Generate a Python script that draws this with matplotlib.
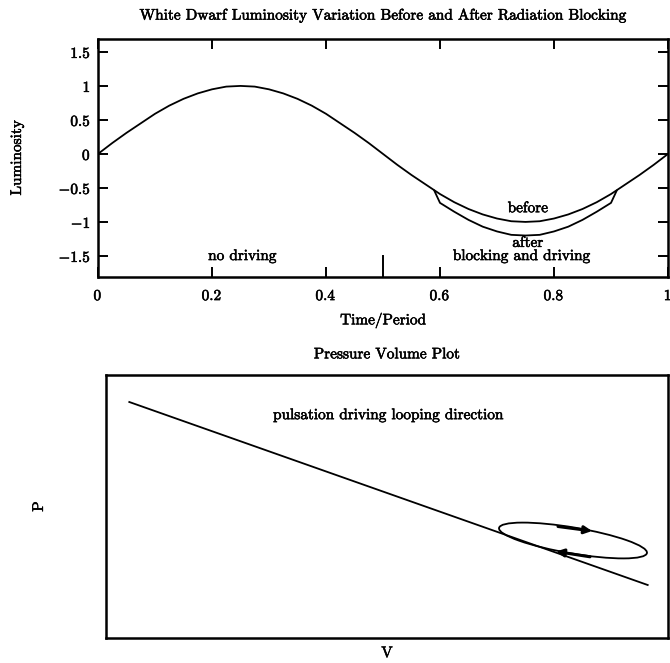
import numpy as np
import matplotlib
matplotlib.use('Agg')
import matplotlib.pyplot as plt
import matplotlib.patheffects as pe
from matplotlib.patches import Ellipse

plt.rcParams['font.family'] = 'serif'
plt.rcParams['font.serif'] = ['cmr10', 'DejaVu Serif']
plt.rcParams['mathtext.fontset'] = 'cm'
plt.rcParams['axes.unicode_minus'] = False

# luminosity
t_before = [0, 0.025, 0.05, 0.075, 0.1, 0.125, 0.15, 0.175, 0.2, 0.225, 0.25,
            0.275, 0.3, 0.325, 0.35, 0.375, 0.4, 0.425, 0.45, 0.475, 0.5,
            0.525, 0.55, 0.575, 0.6, 0.625, 0.65, 0.675, 0.7, 0.725, 0.75,
            0.775, 0.8, 0.825, 0.85, 0.875, 0.9, 0.925, 0.95, 0.975, 1.0]
lum_before = [0, 0.16, 0.31, 0.45, 0.59, 0.71, 0.81, 0.89, 0.95, 0.99, 1.00,
              0.99, 0.95, 0.89, 0.81, 0.71, 0.59, 0.45, 0.31, 0.16, 0,
              -0.16, -0.31, -0.45, -0.59, -0.71, -0.81, -0.89, -0.95, -0.99, -1.00,
              -0.99, -0.95, -0.89, -0.81, -0.71, -0.59, -0.45, -0.31, -0.16, 0]
t_after = [0.59, 0.6, 0.625, 0.65, 0.675, 0.7, 0.725, 0.75,
           0.775, 0.8, 0.825, 0.85, 0.875, 0.9, 0.91]
lum_after = [-0.54, -0.72, -0.85, -0.97, -1.07, -1.14, -1.19, -1.20,
             -1.19, -1.14, -1.07, -0.97, -0.85, -0.72, -0.54]

x_ticks = [0, 0.2, 0.4, 0.6, 0.8, 1]
x_labels = ['$0$', '$0.2$', '$0.4$', '$0.6$', '$0.8$', '$1$']
y_ticks = [-1.5, -1, -0.5, 0, 0.5, 1, 1.5]
y_labels = ['$-1.5$', '$-1$', '$-0.5$', '$0$', '$0.5$', '$1$', '$1.5$']

# pressure-volume plot (arbitrary units)
pv_line_v = [0.233, 5.417]
pv_line_p = [2.36, 0.53]
loop_center = (4.67, 0.975)
loop_width = 1.50
loop_height = 0.26
loop_angle = -9.6
arrow_top = [(4.52, 1.115), (4.86, 1.07)]
arrow_bottom = [(4.84, 0.812), (4.50, 0.865)]

FS = 11
thick = [pe.withStroke(linewidth=0.4, foreground='black')]

fig = plt.figure(figsize=(6.7, 6.63), dpi=100)

# top panel
ax1 = fig.add_axes([98 / 670, 1 - 277 / 663, 570 / 670, 238 / 663])
ax1.plot(t_before, lum_before, color='black', lw=1.3)
ax1.plot(t_after, lum_after, color='black', lw=1.3)
ax1.plot([0.5, 0.5], [-1.81, -1.5], color='black', lw=1.4)
ax1.set_xlim(0, 1)
ax1.set_ylim(-1.81, 1.69)
ax1.set_xticks(x_ticks)
ax1.set_xticklabels(x_labels)
ax1.set_yticks(y_ticks)
ax1.set_yticklabels(y_labels)
ax1.tick_params(direction='in', length=7, width=1.4, top=True, right=True,
                labelsize=FS)
ax1.tick_params(axis='x', pad=8)
ax1.tick_params(axis='y', pad=5)
for s in ax1.spines.values():
    s.set_linewidth(1.8)
ax1.set_title('White Dwarf Luminosity Variation Before and After Radiation Blocking',
              fontsize=FS, pad=14)
ax1.set_xlabel('Time/Period', fontsize=FS, labelpad=7)
ax1.set_ylabel('Luminosity', fontsize=FS)
ax1.yaxis.set_label_coords(-0.13, 0.5)
ax1.text(0.253, -1.5, 'no driving', ha='center', va='center', fontsize=FS)
ax1.text(0.743, -1.5, 'blocking and driving', ha='center', va='center', fontsize=FS)
ax1.text(0.754, -1.31, 'after', ha='center', va='center', fontsize=FS)
ax1.text(0.754, -0.8, 'before', ha='center', va='center', fontsize=FS)

# bottom panel
ax2 = fig.add_axes([106 / 670, 1 - 638 / 663, 562 / 670, 263 / 663])
ax2.plot(pv_line_v, pv_line_p, color='black', lw=1.3)
ax2.add_patch(Ellipse(loop_center, loop_width, loop_height, angle=loop_angle,
                      fill=False, edgecolor='black', lw=1.3))
for a, b in [arrow_top, arrow_bottom]:
    ax2.annotate('', xy=b, xytext=a,
                 arrowprops=dict(arrowstyle='-|>', color='black', lw=2.2,
                                 mutation_scale=11, shrinkA=0, shrinkB=0))
ax2.set_xlim(0, 5.62)
ax2.set_ylim(0, 2.63)
ax2.set_xticks([])
ax2.set_yticks([])
for s in ax2.spines.values():
    s.set_linewidth(1.8)
ax2.set_title('Pressure Volume Plot', fontsize=FS, pad=12)
ax2.set_xlabel('V', fontsize=FS, labelpad=6)
ax2.set_ylabel('P', fontsize=FS)
ax2.yaxis.set_label_coords(-0.107, 0.5)
ax2.text(2.82, 2.23, 'pulsation driving looping direction', ha='center',
         va='center', fontsize=FS)

for t in fig.findobj(matplotlib.text.Text):
    t.set_path_effects(thick)

fig.savefig('out.png', dpi=100)
